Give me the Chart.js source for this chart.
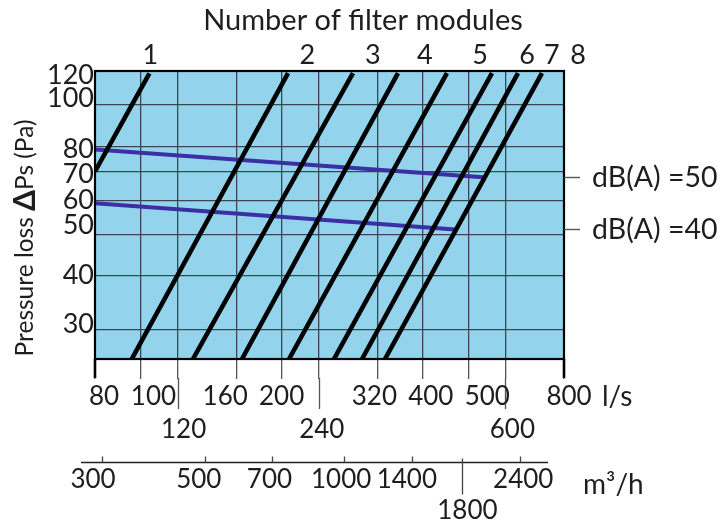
<!DOCTYPE html>
<html>
<head>
<meta charset="utf-8">
<title>Pressure loss</title>
<script src="https://cdn.jsdelivr.net/npm/chart.js@4/dist/chart.umd.min.js"></script>
<style>
  body { margin: 0; background: #fff; }
  #box-chart { width: 725px; height: 522px; }
</style>
</head>
<body>
<div id="box-chart"><canvas id="PressureChart" width="725" height="522"></canvas></div>
<script>
// filter modules: one straight line each, start and end point (l/s, Pa)
var moduleNames = ['1', '2', '3', '4', '5', '6', '7', '8'];
var moduleStartFlow = [80, 95.8, 129.4, 164.6, 207.4, 258.6, 296.8, 332.2];
var moduleStartPa = [70, 25.6, 25.6, 25.6, 25.6, 25.6, 25.6, 25.6];
var moduleEndFlow = [104.5, 206.4, 283.9, 354.1, 450.3, 561.8, 638.2, 718];
var moduleEndPa = [118.5, 118.7, 118.7, 118.7, 118.7, 118.7, 118.7, 118.7];
var moduleLabelFlow = [105, 227, 313, 404, 530, 667, 754, 857];

// sound level lines
var noiseNames = ['dB(A) =50', 'dB(A) =40'];
var noiseStartFlow = [80, 80];
var noiseStartPa = [78.8, 59.0];
var noiseEndFlow = [537.5, 468.4];
var noiseEndPa = [67.9, 51.3];

// axes
var flowTicks = [80, 100, 120, 160, 200, 240, 320, 400, 500, 600, 800];
var flowTicksLow = [120, 240, 600];
var pressureTicks = [30, 40, 50, 60, 70, 80, 100, 120];
var m3hTicks = [300, 500, 700, 1000, 1400, 1800, 2400];
var m3hTicksLow = [1800];

var FONT = 'Lato';
var TEXT = '#1e1e1e';
var GRID = '#3a4650';

// the printed labels sit a few pixels beside their ticks so they do not collide
var flowNudge = { 80: 9, 100: 13, 120: 6, 160: -11, 200: 0, 240: 3, 320: -3, 400: 8, 500: 19, 600: 7, 800: 5 };
var m3hNudge = { 300: -9, 500: -6, 700: -3, 1000: -3, 1400: -5, 1800: 5, 2400: 3 };
var pressureNudge = { 30: -5, 40: -1, 50: -9, 60: 0, 70: 3, 80: 3, 100: -7, 120: 4 };

function fixTicks(values) {
    return function (scale) {
        scale.ticks = values.map(function (v) { return { value: v }; });
    };
}

function buildDatasets() {
    var sets = [];
    for (var i = 0; i < moduleNames.length; i++) {
        sets.push({
            label: 'Module ' + moduleNames[i],
            data: [{ x: moduleStartFlow[i], y: moduleStartPa[i] }, { x: moduleEndFlow[i], y: moduleEndPa[i] }],
            borderColor: '#000',
            borderWidth: 4.6,
            borderCapStyle: 'butt',
            pointRadius: 0,
            fill: false
        });
    }
    // drawn after the modules in the list, so they end up underneath
    for (var j = 0; j < noiseNames.length; j++) {
        sets.push({
            label: noiseNames[j],
            data: [{ x: noiseStartFlow[j], y: noiseStartPa[j] }, { x: noiseEndFlow[j], y: noiseEndPa[j] }],
            borderColor: '#3b2fa6',
            borderWidth: 4,
            borderCapStyle: 'butt',
            pointRadius: 0,
            fill: false
        });
    }
    return sets;
}

// tick labels of a horizontal axis, some on a second row
function rowLabels(ctx, scale, values, lowValues, nudge, y1, y2) {
    ctx.textAlign = 'center';
    for (var i = 0; i < values.length; i++) {
        var v = values[i];
        var x = scale.getPixelForValue(v) + (nudge[v] || 0);
        ctx.fillText(String(v), x, lowValues.indexOf(v) >= 0 ? y2 : y1);
    }
}

var decor = {
    id: 'decor',
    beforeDraw: function (chart) {
        var ctx = chart.ctx, a = chart.chartArea;
        ctx.save();
        ctx.fillStyle = '#fff';
        ctx.fillRect(0, 0, chart.width, chart.height);
        ctx.fillStyle = '#93d4ec';
        ctx.fillRect(a.left, a.top, a.right - a.left, a.bottom - a.top);
        ctx.restore();
    },
    afterDraw: function (chart) {
        var ctx = chart.ctx, a = chart.chartArea;
        var xs = chart.scales.x, ys = chart.scales.y, ms = chart.scales.m3h;
        var i, x, y;
        ctx.save();

        // frame
        ctx.strokeStyle = '#000';
        ctx.lineWidth = 2.2;
        ctx.strokeRect(a.left, a.top, a.right - a.left, a.bottom - a.top);

        // end ticks of the l/s axis
        ctx.lineWidth = 2.6;
        ctx.beginPath();
        ctx.moveTo(a.left, a.bottom);
        ctx.lineTo(a.left, a.bottom + 19);
        ctx.moveTo(a.right, a.bottom);
        ctx.lineTo(a.right, a.bottom + 19);
        ctx.stroke();

        // long ticks for the lower row of l/s labels
        ctx.strokeStyle = '#555';
        ctx.lineWidth = 1.3;
        ctx.beginPath();
        for (i = 0; i < flowTicksLow.length; i++) {
            x = Math.round(xs.getPixelForValue(flowTicksLow[i])) + 0.5;
            ctx.moveTo(x, a.bottom + 19);
            ctx.lineTo(x, a.bottom + 50);
        }
        ctx.stroke();

        // m3/h axis line and ticks
        y = Math.round(ms.top) + 0.5;
        ctx.strokeStyle = '#222';
        ctx.lineWidth = 1.6;
        ctx.beginPath();
        ctx.moveTo(a.left - 14, y);
        ctx.lineTo(a.right - 16, y);
        ctx.stroke();
        ctx.strokeStyle = '#444';
        ctx.lineWidth = 1.3;
        ctx.beginPath();
        for (i = 0; i < m3hTicks.length; i++) {
            x = Math.round(ms.getPixelForValue(m3hTicks[i])) + 0.5;
            if (m3hTicksLow.indexOf(m3hTicks[i]) >= 0) {
                ctx.moveTo(x, y - 4);
                ctx.lineTo(x, y + 32);
            } else {
                ctx.moveTo(x, y - 6);
                ctx.lineTo(x, y);
            }
        }
        ctx.stroke();

        ctx.fillStyle = TEXT;
        ctx.textBaseline = 'middle';

        // tick labels
        ctx.font = '26px ' + FONT;
        rowLabels(ctx, xs, flowTicks, flowTicksLow, flowNudge, a.bottom + 38, a.bottom + 71);
        rowLabels(ctx, ms, m3hTicks, m3hTicksLow, m3hNudge, ms.top + 18, ms.top + 49);
        ctx.font = '27px ' + FONT;
        ctx.textAlign = 'right';
        for (i = 0; i < pressureTicks.length; i++) {
            y = ys.getPixelForValue(pressureTicks[i]) + (pressureNudge[pressureTicks[i]] || 0);
            ctx.fillText(String(pressureTicks[i]), a.left - 1, y);
        }

        // units
        ctx.textAlign = 'left';
        ctx.font = '28px ' + FONT;
        ctx.fillText('l/s', a.right + 38, a.bottom + 38);
        ctx.fillText('m\u00b3/h', a.right + 19, ms.top + 23);

        // dB(A) labels with their short ticks
        for (i = 0; i < noiseNames.length; i++) {
            y = Math.round(ys.getPixelForValue(noiseEndPa[i])) + 0.5;
            ctx.strokeStyle = '#555';
            ctx.lineWidth = 1.4;
            ctx.beginPath();
            ctx.moveTo(a.right, y);
            ctx.lineTo(a.right + 16, y);
            ctx.stroke();
            ctx.font = '28.5px ' + FONT;
            ctx.fillText(noiseNames[i], a.right + 28, y);
        }

        // module numbers above the frame
        ctx.textAlign = 'center';
        ctx.font = '27px ' + FONT;
        for (i = 0; i < moduleNames.length; i++) {
            x = xs.getPixelForValue(moduleLabelFlow[i]);
            ctx.fillText(moduleNames[i], x, a.top - 16);
        }

        // title
        ctx.font = '29px ' + FONT;
        ctx.fillText('Number of filter modules', 363, 21);

        // y title, delta in bold
        var parts = [
            { t: 'Pressure loss ', f: '24.5px ' + FONT },
            { t: '\u0394', f: 'bold 30px ' + FONT },
            { t: 'Ps (Pa)', f: '24.5px ' + FONT }
        ];
        var total = 0;
        for (i = 0; i < parts.length; i++) {
            ctx.font = parts[i].f;
            parts[i].w = ctx.measureText(parts[i].t).width;
            total += parts[i].w;
        }
        ctx.translate(25, 238);
        ctx.rotate(-Math.PI / 2);
        ctx.textAlign = 'left';
        x = -total / 2;
        for (i = 0; i < parts.length; i++) {
            ctx.font = parts[i].f;
            ctx.fillText(parts[i].t, x, 0);
            x += parts[i].w;
        }
        ctx.restore();
    }
};

function showPressureChart(canvasName) {
    var ctx = document.getElementById(canvasName).getContext('2d');
    var chart = new Chart(ctx, {
        type: 'line',
        data: { datasets: buildDatasets() },
        plugins: [decor],
        options: {
            responsive: false,
            animation: false,
            events: [],
            layout: { padding: { top: 71, right: 161, bottom: 0, left: 0 } },
            plugins: {
                legend: { display: false },
                tooltip: { enabled: false }
            },
            scales: {
                x: {
                    type: 'logarithmic',
                    position: 'bottom',
                    weight: 0,
                    min: 80,
                    max: 800,
                    afterBuildTicks: fixTicks(flowTicks),
                    afterFit: function (s) { s.height = 103; },
                    border: { display: false },
                    grid: { color: GRID, lineWidth: 1.3, tickLength: 20, tickColor: '#555' },
                    ticks: { display: false, autoSkip: false, maxRotation: 0 }
                },
                m3h: {
                    type: 'logarithmic',
                    axis: 'x',
                    position: 'bottom',
                    weight: 1,
                    min: 289.7,
                    max: 2983,
                    afterBuildTicks: fixTicks(m3hTicks),
                    afterFit: function (s) { s.height = 60; },
                    border: { display: false },
                    grid: { display: false, drawTicks: false, tickLength: 0 },
                    ticks: { display: false, autoSkip: false, maxRotation: 0 }
                },
                y: {
                    type: 'logarithmic',
                    position: 'left',
                    min: 25.6,
                    max: 120,
                    afterBuildTicks: fixTicks(pressureTicks),
                    afterFit: function (s) { s.width = 95; },
                    border: { display: false },
                    grid: { color: GRID, lineWidth: 1.3, drawTicks: false },
                    ticks: { display: false, autoSkip: false }
                }
            }
        }
    });
    return chart;
}

document.fonts.load('24px ' + FONT).then(function () {
    showPressureChart('PressureChart');
}, function () {
    showPressureChart('PressureChart');
});
</script>
</body>
</html>
